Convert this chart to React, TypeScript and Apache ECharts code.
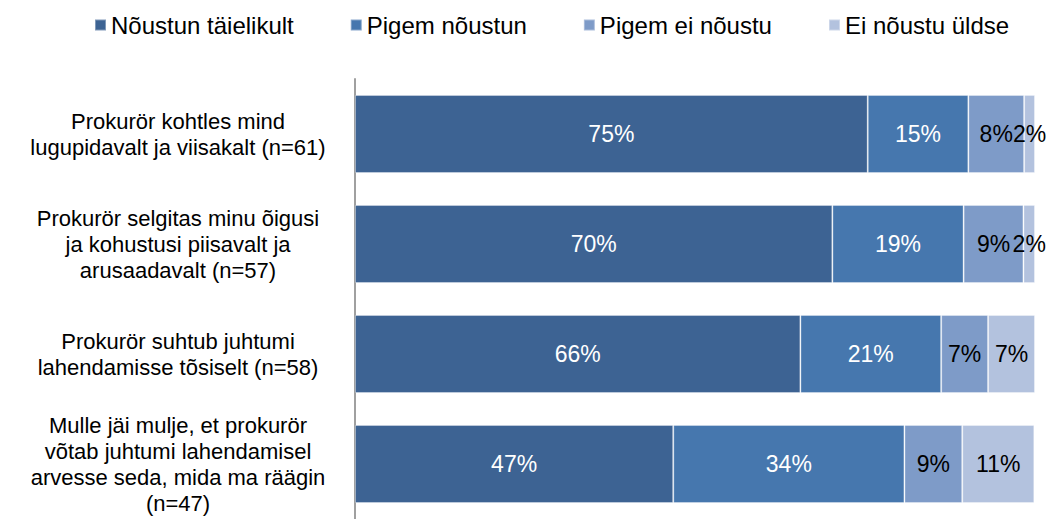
import React, { useEffect, useRef } from "react";
import * as echarts from "echarts";

const categories = [
  "Prokurör kohtles mind\nlugupidavalt ja viisakalt (n=61)",
  "Prokurör selgitas minu õigusi\nja kohustusi piisavalt ja\narusaadavalt (n=57)",
  "Prokurör suhtub juhtumi\nlahendamisse tõsiselt (n=58)",
  "Mulle jäi mulje, et prokurör\nvõtab juhtumi lahendamisel\narvesse seda, mida ma räägin\n(n=47)",
];
const seriesNames = ["Nõustun täielikult", "Pigem nõustun", "Pigem ei nõustu", "Ei nõustu üldse"];
const fullyAgree = [75.4, 70.2, 65.5, 46.8];
const ratherAgree = [14.8, 19.3, 20.7, 34.0];
const ratherDisagree = [8.2, 8.8, 6.9, 8.5];
const disagree = [1.6, 1.7, 6.9, 10.6];

const colors = ["#3D6393", "#4677AE", "#7E9BC8", "#B3C2DE"];
const labelColors = ["#ffffff", "#ffffff", "#000000", "#000000"];
const FONT = "Liberation Sans, Arial, sans-serif";

export default function App() {
  const ref = useRef<HTMLDivElement>(null);
  useEffect(() => {
    document.body.style.margin = "0";
    const chart = echarts.init(ref.current!, null, { renderer: "svg" });
    const data = [fullyAgree, ratherAgree, ratherDisagree, disagree];
    chart.setOption({
      animation: false,
      textStyle: { fontFamily: FONT },
      legend: {
        top: 13,
        left: 94,
        padding: 0,
        itemWidth: 11,
        itemHeight: 11,
        itemGap: 56,
        icon: "rect",
        textStyle: { fontSize: 24, color: "#000", fontFamily: FONT },
        data: seriesNames,
      },
      grid: { left: 355, top: 79, width: 680, height: 444 },
      xAxis: {
        type: "value",
        min: 0,
        max: 100,
        show: false,
      },
      yAxis: {
        type: "category",
        inverse: true,
        data: categories,
        axisLine: { show: true, lineStyle: { color: "#a0a0a0", width: 2 } },
        axisTick: { show: false },
        axisLabel: {
          margin: 177,
          align: "center",
          fontSize: 22,
          lineHeight: 26,
          color: "#000",
          fontFamily: FONT,
        },
      },
      series: seriesNames.map((name, i) => ({
        name,
        type: "bar",
        stack: "total",
        barCategoryGap: "29%",
        data: data[i],
        itemStyle: { color: colors[i], borderColor: "rgba(255,255,255,0.35)", borderWidth: 1 },
        label: {
          show: true,
          position: "inside",
          fontSize: 23,
          color: labelColors[i],
          fontFamily: FONT,
          formatter: (p: any) => Math.round(p.value) + "%",
        },
      })),
    });
    return () => chart.dispose();
  }, []);
  return <div ref={ref} style={{ width: 1048, height: 519 }} />;
}
